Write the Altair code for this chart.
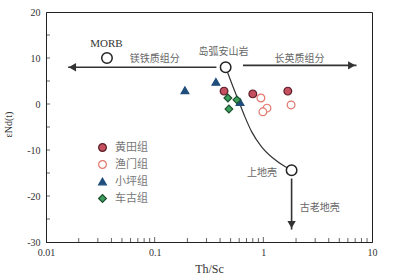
import altair as alt
import pandas as pd

# ---------------- data ----------------
groups = ["黄田组", "渔门组", "小坪组", "车古组"]
xiaoping_x = [0.19, 0.366, 0.61]
xiaoping_y = [3.0, 4.8, 0.4]
huangtian_x = [0.435, 0.80, 1.68]
huangtian_y = [2.8, 2.2, 2.8]
yumen_x = [0.95, 1.08, 0.99, 1.80]
yumen_y = [1.3, -0.9, -1.7, -0.2]
chegu_x = [0.472, 0.571, 0.482]
chegu_y = [1.3, 0.9, -1.1]

em_names = ["MORB", "岛弧安山岩", "上地壳"]
em_x = [0.0364, 0.450, 1.82]
em_y = [10.0, 8.0, -14.4]

curve_x = [0.450, 0.511, 0.587, 0.677, 0.780, 0.964, 1.233, 1.58, 1.82]
curve_y = [8.0, 4.5, 0.9, -2.8, -6.0, -9.3, -11.8, -13.6, -14.4]

# arrows: shaft start, tip
arrow_left_x = [0.37, 0.0160]
arrow_left_y = [8.0, 8.0]
arrow_right_x = [0.65, 7.2]
arrow_right_y = [8.4, 8.4]
arrow_down_x = [1.82, 1.82]
arrow_down_y = [-16.2, -27.3]
head_left = (0.0175, 8.0)
head_right = (6.5, 8.4)
head_down = (1.82, -26.2)

label_text = ["MORB", "镁铁质组分", "岛弧安山岩", "长英质组分", "上地壳", "古老地壳"]
label_x = [0.036, 0.10, 0.43, 2.15, 0.97, 3.3]
label_y = [13.0, 9.7, 11.2, 9.8, -15.0, -22.6]

x_major = [0.01, 0.1, 1, 10]
x_minor = [m * d for d in [0.01, 0.1, 1] for m in range(2, 10)]
y_ticks = [-25, -20, -15, -10, -5, 0, 5, 10, 15]
y_labels = [-30, -20, -10, 0, 10, 20]

fill_colors = ["#c5505f", "#ffffff", "#1f4e7c", "#3c9f5c"]
stroke_colors = ["#5a1f28", "#e2786e", "#1f4e7c", "#1c4f2e"]
shapes = ["circle", "circle", "triangle-up", "diamond"]

# ---------------- frames ----------------
rows = []
for g, xs, ys in [("小坪组", xiaoping_x, xiaoping_y), ("黄田组", huangtian_x, huangtian_y),
                  ("渔门组", yumen_x, yumen_y), ("车古组", chegu_x, chegu_y)]:
    for a, b in zip(xs, ys):
        rows.append({"g": g, "x": a, "y": b})
pts = pd.DataFrame(rows)

curve = pd.DataFrame({"x": curve_x, "y": curve_y, "i": range(len(curve_x))})
arrows = pd.DataFrame(
    [{"a": "L", "x": x, "y": y, "i": i} for i, (x, y) in enumerate(zip(arrow_left_x, arrow_left_y))]
    + [{"a": "R", "x": x, "y": y, "i": i} for i, (x, y) in enumerate(zip(arrow_right_x, arrow_right_y))]
    + [{"a": "D", "x": x, "y": y, "i": i} for i, (x, y) in enumerate(zip(arrow_down_x, arrow_down_y))]
)
ems = pd.DataFrame({"n": em_names, "x": em_x, "y": em_y})
labels = pd.DataFrame({"t": label_text, "x": label_x, "y": label_y})

xscale = alt.Scale(type="log", domain=[0.01, 10], nice=False)
yscale = alt.Scale(domain=[-30, 20], nice=False, zero=False)

X = alt.X("x:Q", scale=xscale, title="Th/Sc",
          axis=alt.Axis(values=x_major, ticks=False, grid=False, labelPadding=5,
                        labelExpr="datum.value >= 1 ? format(datum.value, 'd') : format(datum.value, '.2~f')",
                        labelFont="Liberation Serif", labelFontSize=10, labelColor="#333",
                        titleFont="Liberation Serif", titleFontSize=12, titleFontWeight="normal",
                        titleColor="#333", titlePadding=6, domainColor="#222", labelFlush=False))
Y = alt.Y("y:Q", scale=yscale, title="εNd(t)",
          axis=alt.Axis(values=y_labels, ticks=False, grid=False, labelPadding=6,
                        labelExpr="'' + datum.value",
                        labelFont="Liberation Serif", labelFontSize=10, labelColor="#333",
                        titleFont="Liberation Serif", titleFontSize=10, titleFontWeight="normal",
                        titleColor="#333", titleAngle=270, titleX=-38, titleY=112,
                        titleAlign="center", titleBaseline="middle", domainColor="#222"))

# inner ticks
xt_major = alt.Chart(pd.DataFrame({"x": x_major[1:-1]})).mark_tick(
    orient="vertical", size=5, thickness=1, color="#222", yOffset=-2.5
).encode(x=X, y=alt.datum(-30))
xt_minor = alt.Chart(pd.DataFrame({"x": x_minor})).mark_tick(
    orient="vertical", size=4, thickness=1, color="#222", yOffset=-2
).encode(x=X, y=alt.datum(-30))
yt = alt.Chart(pd.DataFrame({"y": y_ticks})).mark_tick(
    orient="horizontal", size=4, thickness=1, color="#222", xOffset=2
).encode(y=Y, x=alt.datum(0.01))

curve_line = alt.Chart(curve).mark_line(color="#333", strokeWidth=1.2, interpolate="monotone").encode(
    x=X, y=Y, order="i:Q")
arrow_lines = alt.Chart(arrows).mark_line(color="#333", strokeWidth=1.6).encode(
    x=X, y=Y, detail="a:N", order="i:Q")


def head(pos, shape):
    return alt.Chart(pd.DataFrame({"x": [pos[0]], "y": [pos[1]]})).mark_point(
        filled=True, color="#333", size=70, opacity=1, shape=shape).encode(x=X, y=Y)


heads = [head(head_left, "triangle-left"), head(head_right, "triangle-right"),
         head(head_down, "triangle-down")]

points = alt.Chart(pts).mark_point(size=60, strokeWidth=1.2, opacity=1).encode(
    x=X, y=Y,
    fill=alt.Fill("g:N", scale=alt.Scale(domain=groups, range=fill_colors), title=None),
    stroke=alt.Stroke("g:N", scale=alt.Scale(domain=groups, range=stroke_colors), title=None),
    shape=alt.Shape("g:N", scale=alt.Scale(domain=groups, range=shapes), title=None),
)

em_pts = alt.Chart(ems).mark_point(shape="circle", size=110, fill="white", stroke="#222",
                                   strokeWidth=1.5, opacity=1, filled=False).encode(
    x=X, y=Y)

text_cjk = alt.Chart(labels[labels["t"] != "MORB"]).mark_text(
    fontSize=10, color="#666", font="Noto Sans CJK SC").encode(x=X, y=Y, text="t:N")
text_morb = alt.Chart(labels[labels["t"] == "MORB"]).mark_text(
    fontSize=11, color="#333", font="Liberation Serif").encode(x=X, y=Y, text="t:N")

chart = alt.layer(
    xt_major, xt_minor, yt, curve_line, arrow_lines, *heads, points, em_pts, text_cjk, text_morb
).properties(
    width=326, height=230,
    autosize=alt.AutoSizeParams(type="none"),
    padding={"left": 46, "top": 12, "right": 21, "bottom": 38},
    background="white",
).configure_view(stroke="#222", strokeWidth=1).configure_legend(
    orient="none", legendX=51, legendY=130, labelFont="Noto Sans CJK SC", labelFontSize=11,
    labelColor="#777", symbolSize=60, rowPadding=4, labelOffset=7, padding=0,
    symbolStrokeWidth=1.2,
)

chart.save("out.html", embed_options={"renderer": "svg", "actions": False})
